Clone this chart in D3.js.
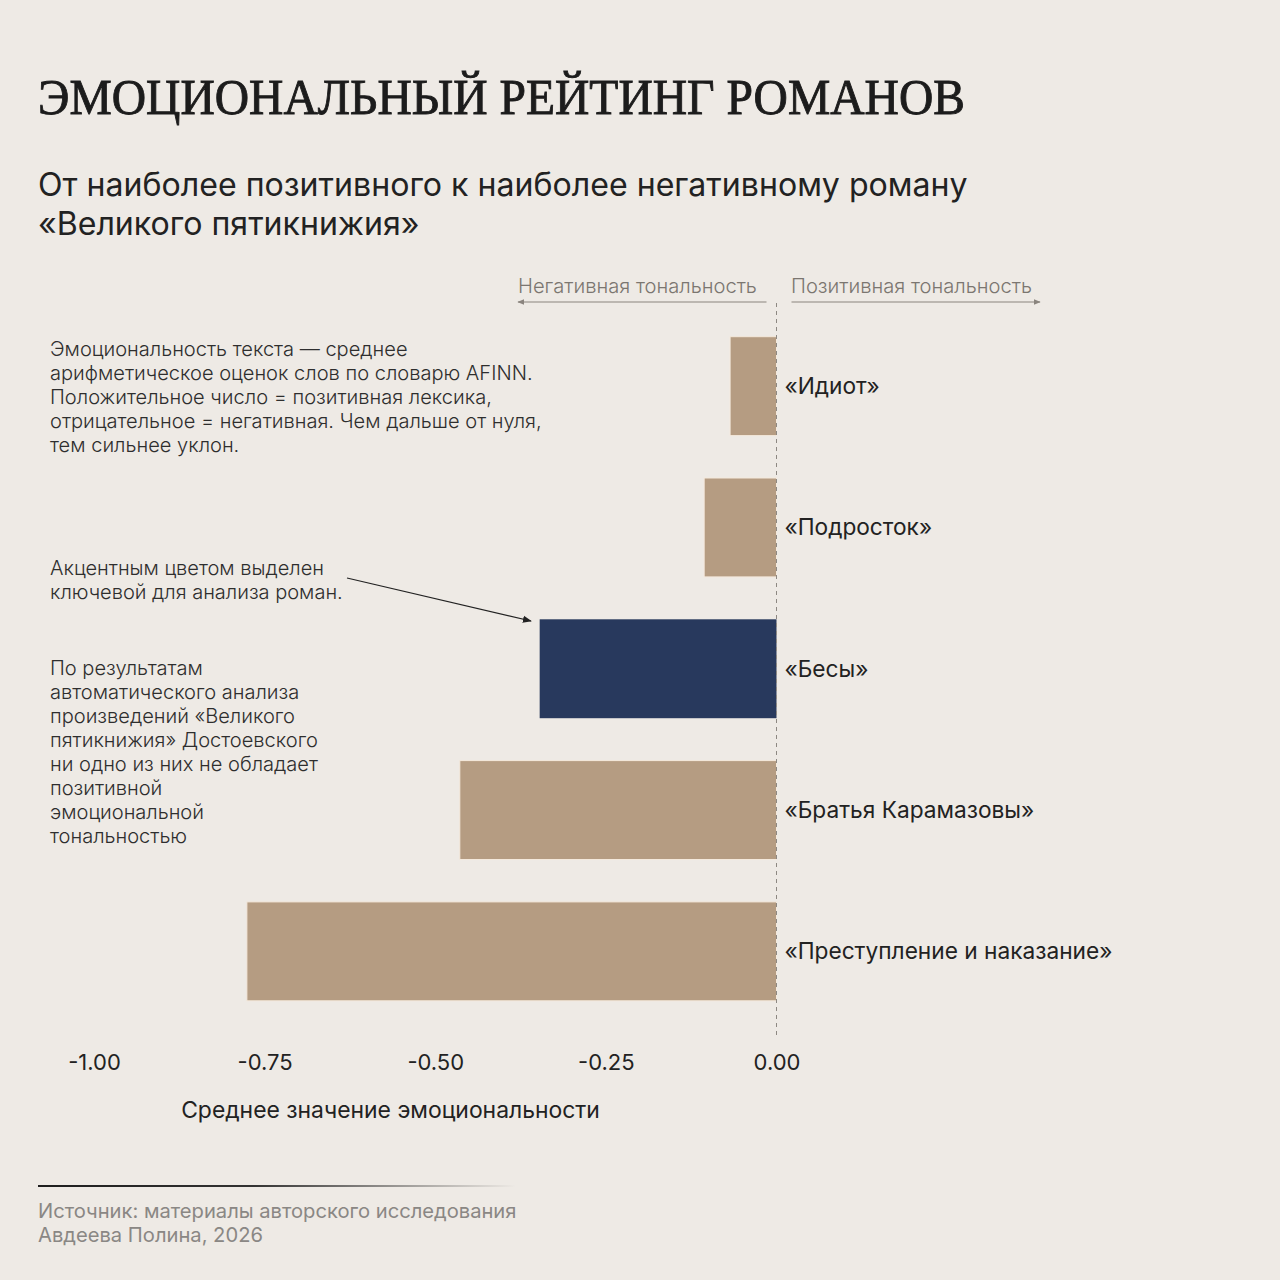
<!DOCTYPE html>
<html><head><meta charset="utf-8">
<script src="https://cdn.jsdelivr.net/npm/d3@7/dist/d3.min.js"></script>
<style>
html,body{margin:0;padding:0;background:#eeeae5;}
svg{display:block;}
</style></head>
<body>
<svg id="chart" width="1280" height="1280"></svg>
<script>
// ---- data ----
const novels = ["«Идиот»", "«Подросток»", "«Бесы»", "«Братья Карамазовы»", "«Преступление и наказание»"];
const values = [-0.068, -0.106, -0.347, -0.464, -0.776];
const highlighted = ["«Бесы»"];
const tickValues = [-1.00, -0.75, -0.50, -0.25, 0.00];
const titleText = "ЭМОЦИОНАЛЬНЫЙ РЕЙТИНГ РОМАНОВ";
const subtitleLines = ["От наиболее позитивного к наиболее негативному роману", "«Великого пятикнижия»"];
const negLabel = "Негативная тональность";
const posLabel = "Позитивная тональность";
const note1 = ["Эмоциональность текста — среднее", "арифметическое оценок слов по словарю AFINN.", "Положительное число = позитивная лексика,", "отрицательное = негативная. Чем дальше от нуля,", "тем сильнее уклон."];
const note2 = ["Акцентным цветом выделен", "ключевой для анализа роман."];
const note3 = ["По результатам", "автоматического анализа", "произведений «Великого", "пятикнижия» Достоевского", "ни одно из них не обладает", "позитивной", "эмоциональной", "тональностью"];
const axisTitle = "Среднее значение эмоциональности";
const sourceLines = ["Источник: материалы авторского исследования", "Авдеева Полина, 2026"];

const data = novels.map((n, i) => ({name: n, value: values[i]}));

// ---- setup ----
const svg = d3.select("#chart");
const BG = "#eeeae5", TAN = "#b59c82", NAVY = "#28395d", INK = "#222222";
const SANS = "Inter, 'Noto Sans', sans-serif";

svg.append("rect").attr("width", 1280).attr("height", 1280).attr("fill", BG);

const defs = svg.append("defs");
function marker(id, color, size) {
  defs.append("marker").attr("id", id).attr("viewBox", "0 0 10 10")
    .attr("refX", 9).attr("refY", 5).attr("markerWidth", size).attr("markerHeight", size)
    .attr("orient", "auto-start-reverse").attr("markerUnits", "userSpaceOnUse")
    .append("path").attr("d", "M0,1 L10,5 L0,9 Z").attr("fill", color);
}
marker("arrGray", "#8a847e", 7);
marker("arrInk", INK, 9);
const grad = defs.append("linearGradient").attr("id", "fade").attr("x1", "0%").attr("x2", "100%");
grad.append("stop").attr("offset", "0%").attr("stop-color", "#1e1e1e").attr("stop-opacity", 1);
grad.append("stop").attr("offset", "45%").attr("stop-color", "#1e1e1e").attr("stop-opacity", 0.9);
grad.append("stop").attr("offset", "100%").attr("stop-color", "#1e1e1e").attr("stop-opacity", 0);

// fit helper: font-size that makes a text element reach the target width
function fitSize(sel, target) {
  const node = sel.node();
  const fs = parseFloat(getComputedStyle(node).fontSize);
  const w = node.getComputedTextLength();
  return fs * target / w;
}

// ---- title ----
svg.append("text").attr("x", 38).attr("y", 114)
  .attr("font-family", "'Liberation Serif', 'DejaVu Serif', serif")
  .attr("font-size", 50).attr("fill", "#1c1c1c")
  .attr("stroke", "#1c1c1c").attr("stroke-width", 0.9)
  .attr("textLength", 927).attr("lengthAdjust", "spacingAndGlyphs")
  .text(titleText);

// ---- subtitle ----
const sub = svg.append("g").attr("font-family", SANS).attr("fill", INK).attr("font-size", 29);
const sub0 = sub.append("text").attr("x", 38).attr("y", 196).text(subtitleLines[0]);
sub.attr("font-size", fitSize(sub0, 930));
sub.append("text").attr("x", 38).attr("y", 235).text(subtitleLines[1]);

// ---- scales ----
const x = d3.scaleLinear().domain([-1, 0]).range([94, 776.5]);
const y = d3.scaleBand().domain(novels).range([315.5, 1022]).paddingInner(0.3).paddingOuter(0.15);

// ---- direction labels ----
const dirG = svg.append("g").attr("font-family", SANS).attr("font-weight", 300).attr("fill", "#7b7670").attr("font-size", 18);
const negT = dirG.append("text").attr("x", 518).attr("y", 293).text(negLabel);
dirG.attr("font-size", fitSize(negT, 239));
dirG.append("text").attr("x", 791).attr("y", 293).text(posLabel);
svg.append("line").attr("x1", x(0) - 10).attr("x2", 518).attr("y1", 302).attr("y2", 302)
  .attr("stroke", "#8a847e").attr("stroke-width", 1.2).attr("marker-end", "url(#arrGray)");
svg.append("line").attr("x1", x(0) + 15).attr("x2", 1040).attr("y1", 302).attr("y2", 302)
  .attr("stroke", "#8a847e").attr("stroke-width", 1.2).attr("marker-end", "url(#arrGray)");

// ---- bars ----
svg.append("g").selectAll("rect").data(data).join("rect")
  .attr("x", d => x(d.value))
  .attr("y", d => y(d.name))
  .attr("width", d => x(0) - x(d.value))
  .attr("height", y.bandwidth())
  .attr("fill", d => highlighted.includes(d.name) ? NAVY : TAN)
  .attr("stroke", d => highlighted.includes(d.name) ? "none" : "#f4e9dc")
  .attr("stroke-width", 1);

// ---- zero line ----
svg.append("line").attr("x1", x(0)).attr("x2", x(0)).attr("y1", 303).attr("y2", 1037)
  .attr("stroke", "#8d8882").attr("stroke-width", 1).attr("stroke-dasharray", "4,4");

// ---- bar labels ----
const labG = svg.append("g").attr("font-family", SANS).attr("fill", INK).attr("font-size", 22);
const labs = labG.selectAll("text").data(data).join("text")
  .attr("x", x(0) + 8)
  .attr("y", d => y(d.name) + y.bandwidth() / 2 + 8)
  .text(d => d.name);
const longest = labs.filter(d => d.name === "«Преступление и наказание»");
labG.attr("font-size", fitSize(longest, 328));

// ---- x axis ----
const fmt = d => d3.format(".2f")(d).replace("−", "-");
const axis = svg.append("g").attr("transform", "translate(0,1040)")
  .call(d3.axisBottom(x).tickValues(tickValues).tickFormat(fmt).tickSize(0).tickPadding(0));
axis.select(".domain").remove();
axis.selectAll("text").attr("font-family", SANS).attr("font-size", 22).attr("fill", INK)
  .attr("dy", 0).attr("y", 30);

svg.append("text").attr("x", 390.5).attr("y", 1118).attr("text-anchor", "middle")
  .attr("font-family", SANS).attr("font-size", 22).attr("fill", INK).text(axisTitle)
  .call(s => s.attr("font-size", fitSize(s, 419)));

// ---- notes ----
function note(lines, x0, y0, lh, refIdx, refW) {
  const g = svg.append("g").attr("font-family", SANS).attr("font-weight", 300)
    .attr("fill", "#2e2e2e").attr("font-size", 19);
  const t = g.selectAll("text").data(lines).join("text")
    .attr("x", x0).attr("y", (d, i) => y0 + i * lh).text(d => d);
  const ref = d3.select(t.nodes()[refIdx]);
  g.attr("font-size", fitSize(ref, refW));
}
note(note1, 50, 356, 24, 3, 492);
note(note2, 50, 575, 24, 1, 293);
note(note3, 50, 675, 24, 3, 268);

// annotation arrow to highlighted bar
svg.append("line").attr("x1", 347).attr("y1", 578).attr("x2", 531).attr("y2", 621)
  .attr("stroke", INK).attr("stroke-width", 1.1).attr("marker-end", "url(#arrInk)");

// ---- source ----
svg.append("rect").attr("x", 38).attr("y", 1185).attr("width", 478).attr("height", 2).attr("fill", "url(#fade)");
const srcG = svg.append("g").attr("font-family", SANS).attr("fill", "#8a8784").attr("font-size", 19);
const s0 = srcG.append("text").attr("x", 38).attr("y", 1218).text(sourceLines[0]);
srcG.attr("font-size", fitSize(s0, 479));
srcG.append("text").attr("x", 38).attr("y", 1242).text(sourceLines[1]);
</script>
</body></html>
